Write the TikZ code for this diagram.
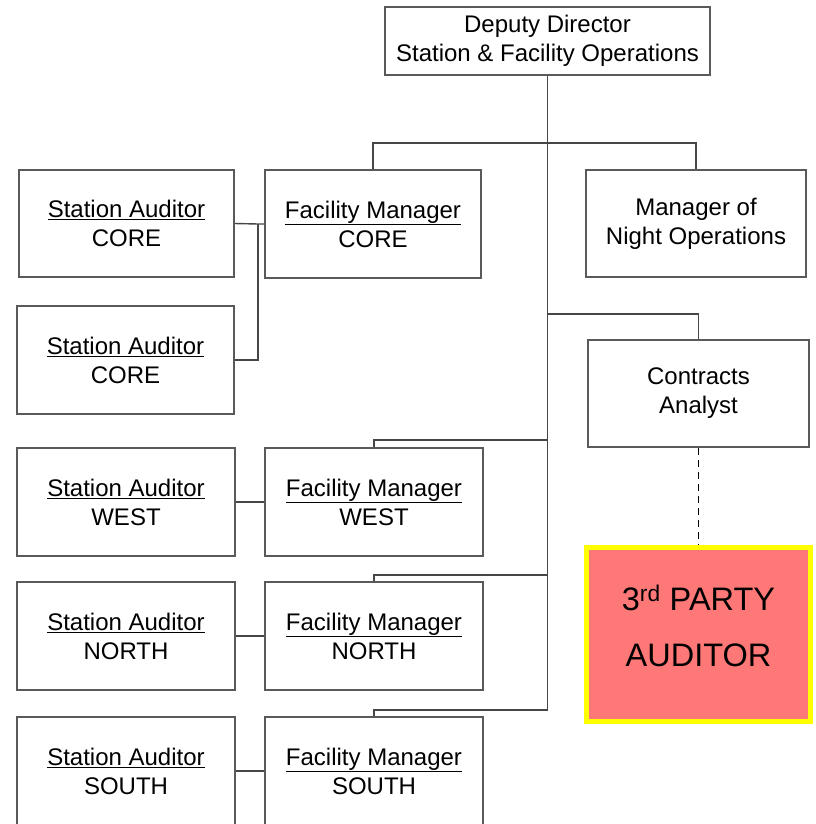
\documentclass[tikz,border=0pt]{standalone}
\usepackage{fontspec}
\setmainfont{Liberation Sans}
\definecolor{linegray}{RGB}{70,70,70}
\definecolor{boxgray}{RGB}{90,90,90}
\definecolor{partypink}{RGB}{255,120,120}
\definecolor{partyyellow}{RGB}{255,255,0}
\begin{document}
\begin{tikzpicture}[x=1pt,y=-1pt,
  box/.style={draw=boxgray,line width=1.2pt,fill=white,rectangle,align=center,inner sep=0pt,
    font=\fontsize{24}{29}\selectfont},
  conn/.style={draw=linegray,line width=1.4pt},
  partybox/.style={draw=partyyellow,line width=4.5pt,fill=partypink,rectangle,align=center,inner sep=0pt,
    text depth=18pt,font=\fontsize{32.5}{56}\selectfont}]
\useasboundingbox (0,0) rectangle (815,824);
\clip (0,0) rectangle (815,824);
% nodes
\node[box,minimum width=325pt,minimum height=68pt] (dd) at (547.5,41) {Deputy Director\\Station \& Facility Operations};
\node[box,minimum width=216pt,minimum height=108pt] (fmc) at (373,224) {\underline{Facility Manager}\\CORE};
\node[box,minimum width=215pt,minimum height=107pt] (sac1) at (126.5,223.5) {\underline{Station Auditor}\\CORE};
\node[box,minimum width=217pt,minimum height=108pt] (sac2) at (125.5,360) {\underline{Station Auditor}\\CORE};
\node[box,minimum width=220pt,minimum height=107pt] (night) at (696,223.5) {Manager of\\Night Operations};
\node[box,minimum width=221pt,minimum height=107pt] (ca) at (698.5,393.5) {Contracts\\Analyst};
\node[partybox,minimum width=224pt,minimum height=174pt] (party) at (698.5,634.5) {3\textsuperscript{rd} PARTY\\AUDITOR};
\node[box,minimum width=218pt,minimum height=108pt] (saw) at (126,502) {\underline{Station Auditor}\\WEST};
\node[box,minimum width=218pt,minimum height=108pt] (fmw) at (374,502) {\underline{Facility Manager}\\WEST};
\node[box,minimum width=218pt,minimum height=108pt] (san) at (126,636) {\underline{Station Auditor}\\NORTH};
\node[box,minimum width=218pt,minimum height=108pt] (fmn) at (374,636) {\underline{Facility Manager}\\NORTH};
\node[box,minimum width=218pt,minimum height=108pt] (sas) at (126,771) {\underline{Station Auditor}\\SOUTH};
\node[box,minimum width=218pt,minimum height=108pt] (fms) at (374,771) {\underline{Facility Manager}\\SOUTH};
% junctions
\coordinate (j1) at (547.5,143);
\coordinate (j2) at (547.5,314);
\coordinate (j3) at (547.5,440);
\coordinate (j4) at (547.5,575);
\coordinate (j5) at (547.5,710);
\coordinate (k) at (258,224);
% connectors
\draw[conn] (dd.south) -- (j5);
\draw[conn] (fmc.north) |- (j1) -| (night.north);
\draw[conn] (j2) -| (ca.north);
\draw[conn] (j3) -| (fmw.north);
\draw[conn] (j4) -| (fmn.north);
\draw[conn] (j5) -| (fms.north);
\draw[conn] (sac1.east) -- (k) -- (fmc.west);
\draw[conn] (sac2.east) -| (k);
\draw[conn] (saw.east) -- (fmw.west);
\draw[conn] (san.east) -- (fmn.west);
\draw[conn] (sas.east) -- (fms.west);
\draw[conn,draw=black,dash pattern=on 7pt off 5pt] (ca.south) -- (party.north);
\end{tikzpicture}
\end{document}
